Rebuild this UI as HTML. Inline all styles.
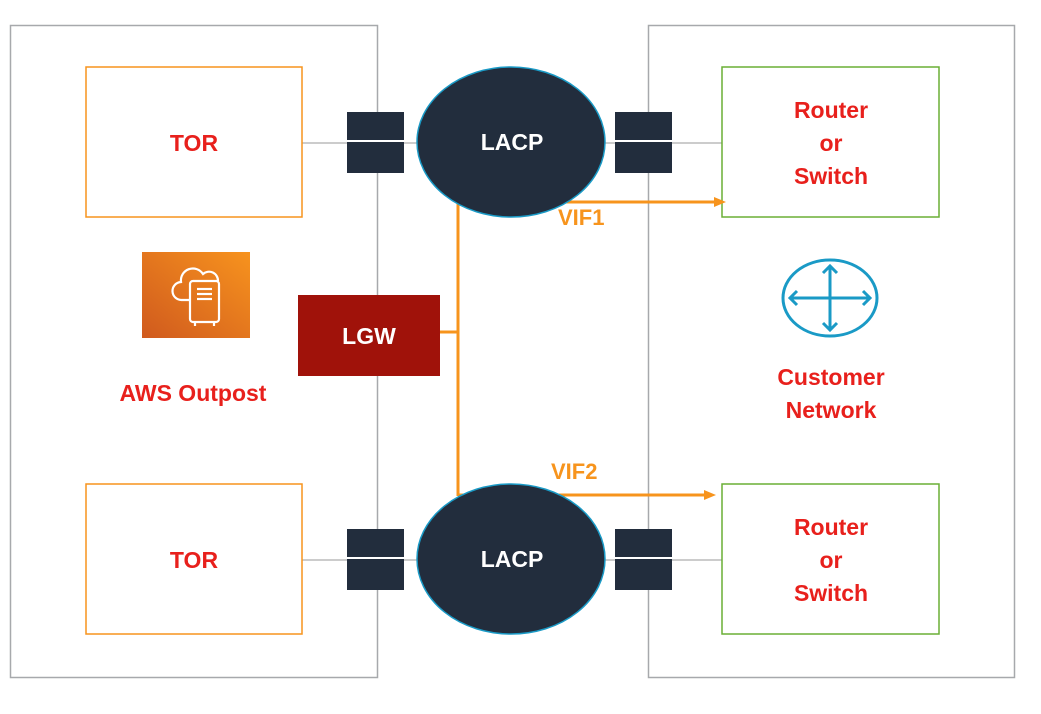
<!DOCTYPE html>
<html><head><style>
body{margin:0;background:#fff;}
svg text{font-family:"Liberation Sans",sans-serif;}
</style></head><body>
<svg width="1041" height="709" viewBox="0 0 1041 709" xmlns="http://www.w3.org/2000/svg">
<defs>
<linearGradient id="g" x1="0" y1="1" x2="1" y2="0">
<stop offset="0" stop-color="#d05a1e"/><stop offset="1" stop-color="#f7931e"/></linearGradient>
</defs>
<rect x="10.5" y="25.5" width="367" height="652" fill="none" stroke="#a7a9ac" stroke-width="1.5"/>
<rect x="648.5" y="25.5" width="366" height="652" fill="none" stroke="#a7a9ac" stroke-width="1.5"/>
<line x1="302" y1="143" x2="722" y2="143" stroke="#ccc" stroke-width="2"/>
<line x1="302" y1="560" x2="722" y2="560" stroke="#ccc" stroke-width="2"/>
<rect x="86" y="67" width="216" height="150" fill="#fff" stroke="#f7941d" stroke-width="1.5"/>
<rect x="86" y="484" width="216" height="150" fill="#fff" stroke="#f7941d" stroke-width="1.5"/>
<rect x="722" y="67" width="217" height="150" fill="#fff" stroke="#6aaf35" stroke-width="1.5"/>
<rect x="722" y="484" width="217" height="150" fill="#fff" stroke="#6aaf35" stroke-width="1.5"/>
<g font-size="23" fill="#e8201c" text-anchor="middle" font-weight="bold">
<text x="194" y="151">TOR</text>
<text x="194" y="568">TOR</text>
<text x="831" y="118">Router</text><text x="831" y="151">or</text><text x="831" y="184">Switch</text>
<text x="831" y="535">Router</text><text x="831" y="568">or</text><text x="831" y="601">Switch</text>
<text x="193" y="401">AWS Outpost</text>
<text x="831" y="385">Customer</text><text x="831" y="418">Network</text>
</g>
<g fill="#222d3d">
<rect x="347" y="112" width="57" height="61"/><rect x="615" y="112" width="57" height="61"/>
<rect x="347" y="529" width="57" height="61"/><rect x="615" y="529" width="57" height="61"/>
</g>
<g stroke="#fff" stroke-width="2">
<line x1="347" y1="141" x2="404" y2="141"/><line x1="615" y1="141" x2="672" y2="141"/>
<line x1="347" y1="558" x2="404" y2="558"/><line x1="615" y1="558" x2="672" y2="558"/>
</g>
<g stroke="#f7941d" stroke-width="3" fill="none">
<line x1="458" y1="195" x2="458" y2="496"/>
<line x1="440" y1="332" x2="458" y2="332"/>
<line x1="560" y1="202" x2="716" y2="202"/>
<line x1="458" y1="495" x2="708" y2="495"/>
</g>
<polygon points="726,202 714,197 714,207" fill="#f7941d"/>
<polygon points="716,495 704,490 704,500" fill="#f7941d"/>
<g font-size="22" fill="#f7941d" font-weight="bold">
<text x="558" y="225">VIF1</text>
<text x="551" y="479">VIF2</text>
</g>
<ellipse cx="511" cy="142" rx="94" ry="75" fill="#222d3d" stroke="#1a9ac6" stroke-width="1.5"/>
<ellipse cx="511" cy="559" rx="94" ry="75" fill="#222d3d" stroke="#1a9ac6" stroke-width="1.5"/>
<g font-size="23" fill="#fff" text-anchor="middle" font-weight="bold">
<text x="512" y="150">LACP</text>
<text x="512" y="567">LACP</text>
</g>
<rect x="298" y="295" width="142" height="81" fill="#a0120a"/>
<text x="369" y="344" font-size="23" fill="#fff" text-anchor="middle" font-weight="bold">LGW</text>
<rect x="142" y="252" width="108" height="86" fill="url(#g)"/>
<g stroke="#fff" stroke-width="2.2" fill="none">
<path d="M189,300 h-7 a9,9 0 0 1 -1,-18 a12,12 0 0 1 22,-8 a9,9 0 0 1 15,7"/>
<rect x="190" y="281" width="29" height="41" rx="3"/>
<line x1="197" y1="289" x2="212" y2="289"/><line x1="197" y1="294" x2="212" y2="294"/><line x1="197" y1="299" x2="212" y2="299"/>
<line x1="195" y1="322" x2="195" y2="326"/><line x1="214" y1="322" x2="214" y2="326"/>
</g>
<g stroke="#1a9ac6" stroke-width="3" fill="none">
<ellipse cx="830" cy="298" rx="47" ry="38"/>
<line x1="790" y1="298" x2="870" y2="298"/><line x1="830" y1="266" x2="830" y2="330"/>
<polyline points="797,291 790,298 797,305"/><polyline points="863,291 870,298 863,305"/>
<polyline points="823,273 830,266 837,273"/><polyline points="823,323 830,330 837,323"/>
</g>
</svg>
</body></html>
